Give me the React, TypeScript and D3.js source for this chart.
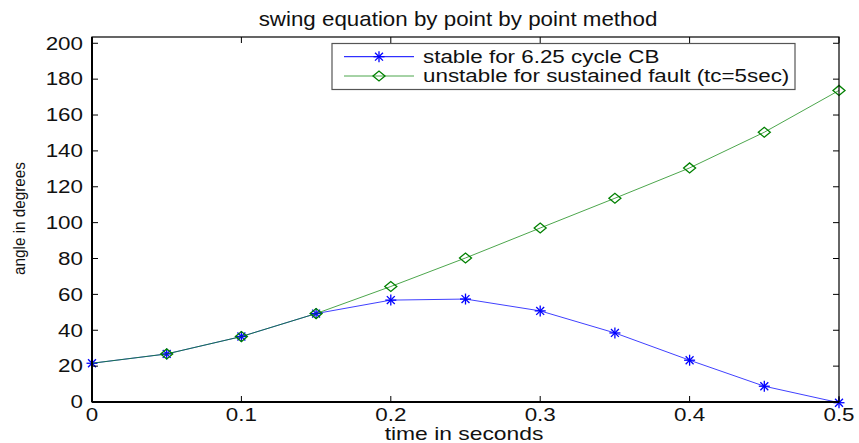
import React from "react";
import * as d3 from "d3";

const times = [0, 0.05, 0.1, 0.15, 0.2, 0.25, 0.3, 0.35, 0.4, 0.45, 0.5];
const stableAngles = [21.6, 26.8, 36.5, 49.3, 56.8, 57.4, 50.8, 38.5, 23.3, 8.8, -0.4];
const unstableAngles = [21.6, 26.8, 36.5, 49.3, 64.4, 80.3, 97.0, 113.6, 130.5, 150.4, 173.7];
const xTicks = [0, 0.1, 0.2, 0.3, 0.4, 0.5];
const yTicks = [0, 20, 40, 60, 80, 100, 120, 140, 160, 180, 200];
const seriesNames = ["stable for 6.25 cycle CB", "unstable for sustained fault (tc=5sec)"];
const titleText = "swing equation by point by point method";
const xLabel = "time in seconds";
const yLabel = "angle in degrees";

const W = 859;
const H = 443;
const FONT = "'Liberation Sans', Arial, sans-serif";
const BLUE = "#0000ff";
const GREEN = "#008000";

function T({ x, y, sx = 1.28, size = 17.5, anchor = "middle", children, fill = "#111" }: any) {
  return (
    <text
      transform={`translate(${x},${y}) scale(${sx},1)`}
      textAnchor={anchor}
      fontFamily={FONT}
      fontSize={size}
      fill={fill}
    >
      {children}
    </text>
  );
}

function Star({ cx, cy, r = 5.5, color }: any) {
  const d = r * 0.72;
  return (
    <g stroke={color} strokeWidth={1.3}>
      <line x1={cx - r} y1={cy} x2={cx + r} y2={cy} />
      <line x1={cx} y1={cy - r} x2={cx} y2={cy + r} />
      <line x1={cx - d} y1={cy - d} x2={cx + d} y2={cy + d} />
      <line x1={cx - d} y1={cy + d} x2={cx + d} y2={cy - d} />
    </g>
  );
}

function Diamond({ cx, cy, rx = 6, ry = 5, color }: any) {
  return (
    <path
      d={`M${cx - rx},${cy} L${cx},${cy - ry} L${cx + rx},${cy} L${cx},${cy + ry} Z`}
      fill="none"
      stroke={color}
      strokeWidth={1.3}
    />
  );
}

export default function App() {
  const left = 92, right = 839, top = 37, bottom = 402;
  const x = d3.scaleLinear().domain([0, 0.5]).range([left, right]);
  const y = d3.scaleLinear().domain([0, 203.5]).range([bottom, top]);
  const line = d3
    .line<number>()
    .x((_, i) => x(times[i]))
    .y((v) => y(v));
  const tick = 6;

  return (
    <svg width={W} height={H} style={{ position: "absolute", left: 0, top: 0, background: "#fff" }}>
      <rect x={0} y={0} width={W} height={H} fill="#fff" />
      {/* title */}
      <T x={458} y={26} sx={1.09} size={20.5}>{titleText}</T>

      {/* series lines */}
      <path d={line(stableAngles) || ""} fill="none" stroke={BLUE} strokeOpacity={0.75} strokeWidth={1} />
      {stableAngles.map((v, i) => (
        <Star key={"s" + i} cx={x(times[i])} cy={y(v)} color={BLUE} />
      ))}
      <path d={line(unstableAngles) || ""} fill="none" stroke={GREEN} strokeOpacity={0.7} strokeWidth={1} />
      {unstableAngles.map((v, i) =>
        i === 0 ? null : <Diamond key={"u" + i} cx={x(times[i])} cy={y(v)} color={GREEN} />
      )}

      {/* axes box */}
      <rect x={left} y={top} width={right - left} height={bottom - top} fill="none" stroke="#000" strokeWidth={1.2} />
      <line x1={left} y1={top} x2={left} y2={bottom} stroke="#000" strokeWidth={2} />
      <line x1={left} y1={bottom} x2={right} y2={bottom} stroke="#000" strokeWidth={2} />

      {/* x ticks */}
      {xTicks.map((t) => (
        <g key={"xt" + t}>
          <line x1={x(t)} y1={bottom} x2={x(t)} y2={bottom - tick} stroke="#000" strokeWidth={1} />
          <line x1={x(t)} y1={top} x2={x(t)} y2={top + tick} stroke="#000" strokeWidth={1} />
          <T x={x(t)} y={421}>{t === 0 ? "0" : d3.format(".1f")(t)}</T>
        </g>
      ))}
      {/* y ticks */}
      {yTicks.map((t) => (
        <g key={"yt" + t}>
          <line x1={left} y1={y(t)} x2={left + tick} y2={y(t)} stroke="#000" strokeWidth={1} />
          <line x1={right} y1={y(t)} x2={right - tick} y2={y(t)} stroke="#000" strokeWidth={1} />
          <T x={83} y={y(t) + 6.3} anchor="end">{String(t)}</T>
        </g>
      ))}

      {/* axis labels */}
      <T x={464} y={440} sx={1.27} size={18}>{xLabel}</T>
      <text
        transform="translate(25,218.5) rotate(-90)"
        textAnchor="middle"
        fontFamily={FONT}
        fontSize={17}
        textLength={113}
        lengthAdjust="spacingAndGlyphs"
        fill="#111"
      >
        {yLabel}
      </text>

      {/* legend */}
      <rect x={332} y={43.5} width={463} height={46} fill="#fff" stroke="#555" strokeWidth={1.2} />
      <line x1={344} y1={56.7} x2={414} y2={56.7} stroke={BLUE} strokeWidth={1} />
      <Star cx={379} cy={56.7} color={BLUE} />
      <line x1={344} y1={76} x2={414} y2={76} stroke={GREEN} strokeOpacity={0.7} strokeWidth={1} />
      <Diamond cx={379} cy={76} color={GREEN} />
      <T x={423} y={62.8} anchor="start">{seriesNames[0]}</T>
      <T x={423} y={82.3} anchor="start">{seriesNames[1]}</T>
    </svg>
  );
}
